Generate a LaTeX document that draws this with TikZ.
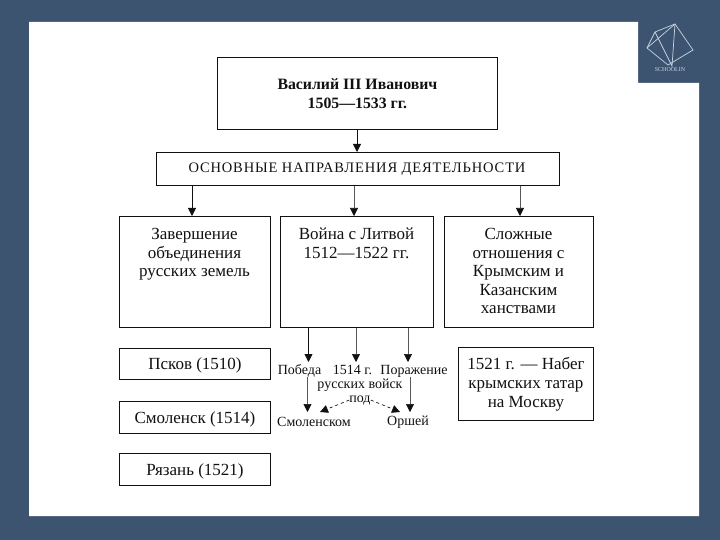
\documentclass[tikz,border=0pt]{standalone}
\usepackage{fontspec}
\setmainfont{Liberation Serif}
\newfontfamily\spacedfont[LetterSpace=6]{Liberation Serif}
\usetikzlibrary{arrows.meta,calc}
\definecolor{slate}{HTML}{3D5470}
\definecolor{logoline}{HTML}{C5D3E2}
\definecolor{ink}{HTML}{111111}
\tikzset{
  box/.style={draw=ink,line width=0.9pt,fill=white,inner sep=0pt,align=center,text=ink},
  boxat/.style n args={4}{box,anchor=north west,at={(#1,-#2)},minimum width=#3 pt,minimum height=#4 pt},
  arr/.style={draw=ink,line width=0.8pt,-{Triangle[length=8pt,width=8pt]}},
  thinarr/.style={draw=ink!70,line width=0.6pt,-{Triangle[length=8pt,width=8pt,color=ink]}},
  dasharr/.style={draw=ink,line width=0.7pt,dashed,-{Triangle[length=8pt,width=8pt]}},
  lab/.style={font=\fontsize{14}{16}\selectfont,text=ink,align=center,inner sep=0pt},
  txt/.style={font=\fontsize{17}{18.6}\selectfont,text=ink,align=center,inner sep=0pt},
  boxtxt/.style={font=\fontsize{17}{18.2}\selectfont,text depth=0pt},
  logo/.style={draw=logoline,line width=0.7pt}
}
\begin{document}
\begin{tikzpicture}[x=1pt,y=1pt]
\useasboundingbox (0,0) rectangle (720,-540);
\fill[slate] (0,0) rectangle (720,-540);
\fill[white] (29,-22) -- (638,-22) -- (638,-83) -- (699,-83) -- (699,-516) -- (29,-516) -- cycle;
% logo
\draw[logo] (647,-48) -- (675,-24) -- (693,-50) -- (668,-65) -- cycle;
\draw[logo] (647,-48) -- (655,-32) -- (675,-24);
\draw[logo] (655,-32) -- (672,-66) -- (675,-24);
\node[font=\fontsize{6}{6}\selectfont,text=logoline,inner sep=0pt] (logotext) at (670,-70) {SCHOOLIN};
% boxes
\node[boxat={217}{57}{280}{72},font=\bfseries\fontsize{15.8}{18.5}\selectfont] (top) {Василий III Иванович\\1505—1533 гг.};
\node[boxat={156}{152}{403}{33}] (main) {};
\node[text=ink,inner sep=0pt,font=\spacedfont\fontsize{14.5}{16}\selectfont] (maint) at (357,-169.5) {ОСНОВНЫЕ НАПРАВЛЕНИЯ ДЕЯТЕЛЬНОСТИ};
\node[boxat={119}{216}{151}{111}] (c1) {};
\node[boxat={280}{216}{153}{111}] (c2) {};
\node[boxat={444}{216}{149}{111}] (c3) {};
\node[txt,anchor=north] (c1t) at (194.5,-228) {Завершение\\объединения\\русских земель};
\node[txt,anchor=north] (c2t) at (356.5,-228) {Война с Литвой\\1512—1522 гг.};
\node[txt,anchor=north] (c3t) at (518.5,-228) {Сложные\\отношения с\\Крымским и\\Казанским\\ханствами};
\node[boxat={119}{348}{151}{31},boxtxt] (pskov) {Псков (1510)};
\node[boxat={119}{401}{151}{32},boxtxt] (smol) {Смоленск (1514)};
\node[boxat={119}{453}{151}{32},boxtxt] (ryaz) {Рязань (1521)};
\node[boxat={458}{347}{135}{73},font=\fontsize{17}{19}\selectfont] (raid) {1521 г. — Набег\\крымских татар\\на Москву};
% labels
\node[lab,anchor=base] (win) at (299.5,-374) {Победа};
\node[lab,anchor=base] (yr) at (352.5,-374) {1514 г.};
\node[lab,anchor=base] (loss) at (414,-374) {Поражение};
\node[lab,anchor=base] (army) at (360,-388) {русских войск};
\node[lab,anchor=base] (pod) at (360,-402) {под};
\node[lab,anchor=base] (smolsk) at (314,-426) {Смоленском};
\node[lab,anchor=base] (orsha) at (408,-425) {Оршей};
% connector anchors
\coordinate (a1) at (357,-129);
\coordinate (b1) at (192,-185);
\coordinate (b2) at (354,-185);
\coordinate (b3) at (520,-185);
\draw[arr] (top.south -| a1) -- (main.north -| a1);
\draw[arr] (main.south -| b1) -- (c1.north -| b1);
\draw[thinarr] (main.south -| b2) -- (c2.north -| b2);
\draw[thinarr] (main.south -| b3) -- (c3.north -| b3);
\coordinate (d1) at (308.5,-327); \coordinate (d2) at (356,-327); \coordinate (d3) at (408,-327);
\draw[arr] (c2.south -| d1) -- (308.5,-362);
\draw[thinarr] (c2.south -| d2) -- (356,-362);
\draw[thinarr] (c2.south -| d3) -- (408,-362);
\draw[thinarr] (win.south -| 307.5,0) -- (307.5,-412);
\draw[thinarr] (loss.south -| 410,0) -- (410,-412);
\draw[dasharr] (pod.west) -- (320,-412);
\draw[dasharr] (pod.east) -- (400,-412);
\end{tikzpicture}
\end{document}
